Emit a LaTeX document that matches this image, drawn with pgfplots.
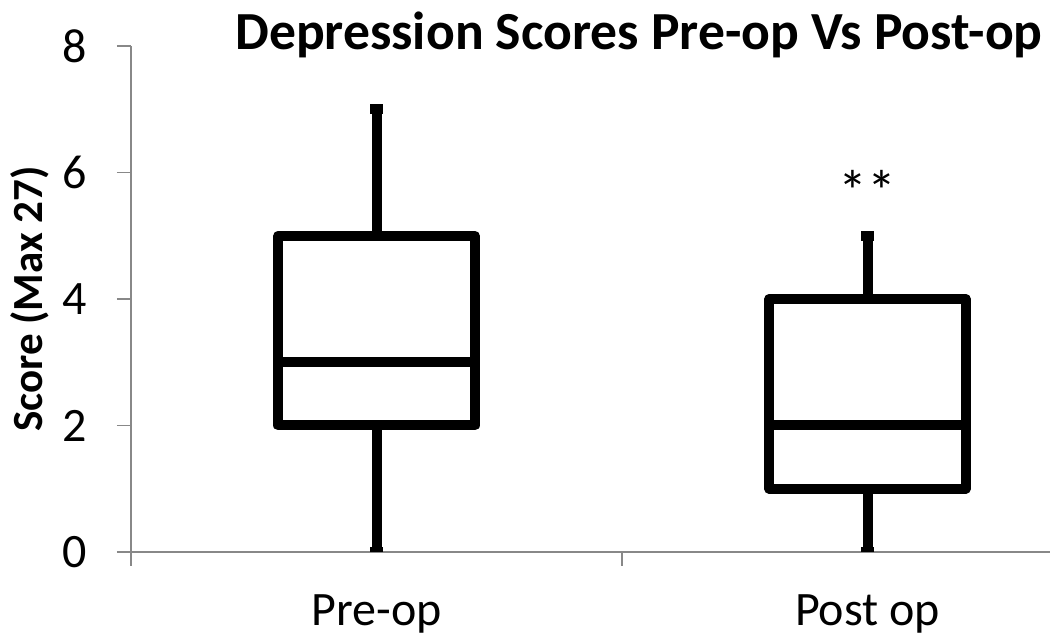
\documentclass[border=0pt]{standalone}
\usepackage{fontspec}
\setmainfont{Carlito}
\usepackage{pgfplots}
\pgfplotsset{compat=1.18}
\usepgfplotslibrary{statistics}
\definecolor{axgray}{HTML}{888888}
\begin{document}
\begin{tikzpicture}
\begin{axis}[name=ax, scale only axis, width=459.5pt, height=253pt,
  xmin=0, xmax=1.8717, ymin=0, ymax=8,
  axis x line=bottom, axis y line=left,
  axis line style={axgray, line width=0.75pt, -},
  xtick={0,1,2}, xticklabels={}, ytick={0,2,4,6,8},
  tick align=outside, major tick length=7pt,
  tick style={axgray, line width=0.75pt},
  ticklabel style={font=\fontsize{24}{26}\selectfont},
  /pgf/number format/assume math mode=true,
  yticklabel style={anchor=east, inner sep=0pt, xshift=-15pt},
  extra x ticks={0.5,1.5}, extra x tick labels={Pre-op,Post op},
  extra x tick style={major tick length=0pt, tick style={draw=none},
    xticklabel style={anchor=north, inner sep=0pt, yshift=-21pt}},
  boxplot/draw direction=y,
]
\addplot[black, line width=5pt, line join=round, fill=white,
  boxplot prepared={draw position=0.5, lower whisker=0, lower quartile=2,
  median=3, upper quartile=5, upper whisker=7, box extend=0.4, whisker extend=0.025}]
  coordinates {};
\addplot[black, line width=5pt, line join=round, fill=white,
  boxplot prepared={draw position=1.5, lower whisker=0, lower quartile=1,
  median=2, upper quartile=4, upper whisker=5, box extend=0.4, whisker extend=0.025}]
  coordinates {};
\node[anchor=base, font=\fontsize{29}{30}\selectfont] at (axis cs:1.5,5.38) {**};
\end{axis}
\node[anchor=base, font=\bfseries\fontsize{26.8}{30}\selectfont] at ([xshift=254pt,yshift=-2pt]ax.north west) {Depression Scores Pre-op Vs Post-op};
\node[rotate=90, anchor=center, font=\bfseries\fontsize{21.5}{23}\selectfont] at ([xshift=-50.5pt]ax.west) {Score (Max 27)};
\pgfresetboundingbox
\path[use as bounding box] ([xshift=-65.5pt,yshift=-42pt]ax.south west) rectangle ([yshift=23pt]ax.north east);
\end{tikzpicture}
\end{document}
